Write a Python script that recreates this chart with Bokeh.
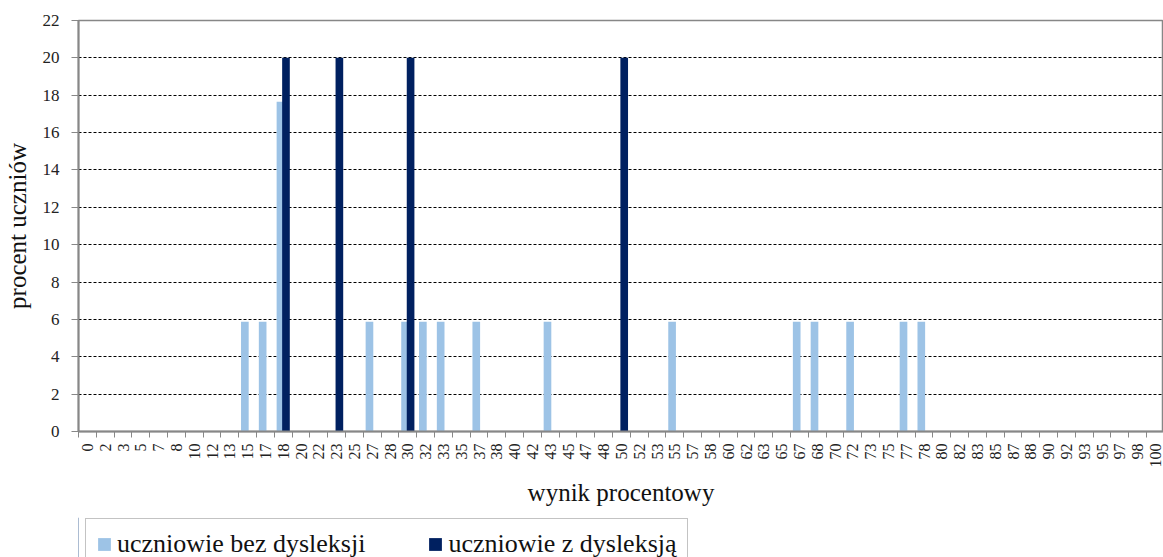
from math import pi
from bokeh.plotting import figure
from bokeh.layouts import column
from bokeh.models import FixedTicker, Legend, LegendItem, Range1d, ColumnDataSource
from bokeh.embed import file_html
from bokeh.resources import INLINE

# category labels (percent score)
categories = ["0", "2", "3", "5", "7", "8", "10", "12", "13", "15", "17", "18", "20", "22", "23",
              "25", "27", "28", "30", "32", "33", "35", "37", "38", "40", "42", "43", "45", "47",
              "48", "50", "52", "53", "55", "57", "58", "60", "62", "63", "65", "67", "68", "70",
              "72", "73", "75", "77", "78", "80", "82", "83", "85", "87", "88", "90", "92", "93",
              "95", "97", "98", "100"]

# uczniowie bez dysleksji (non-zero categories)
bez_scores = ["15", "17", "18", "27", "30", "32", "33", "37", "43", "55", "67", "68", "72", "77", "78"]
bez_values = [5.88, 5.88, 17.65, 5.88, 5.88, 5.88, 5.88, 5.88, 5.88, 5.88, 5.88, 5.88, 5.88, 5.88, 5.88]

# uczniowie z dysleksją (non-zero categories)
z_scores = ["18", "23", "30", "50"]
z_values = [20, 20, 20, 20]

y_ticks = [0, 2, 4, 6, 8, 10, 12, 14, 16, 18, 20, 22]

series_names = ["uczniowie bez dysleksji", "uczniowie z dysleksją"]

FONT = "Liberation Serif"
LIGHT = "#9DC3E6"
DARK = "#002060"
AXIS_GRAY = "#878787"

idx = {c: i for i, c in enumerate(categories)}

src_bez = ColumnDataSource(dict(x=[idx[s] - 0.155 for s in bez_scores], top=bez_values))
src_z = ColumnDataSource(dict(x=[idx[s] + 0.155 for s in z_scores], top=z_values))

p = figure(width=1163, height=517, output_backend="svg", toolbar_location=None,
           x_range=Range1d(-0.5, 60.45), y_range=Range1d(0, 22),
           min_border_left=78, min_border_right=0, min_border_top=20, min_border_bottom=86)

r1 = p.vbar(x="x", top="top", bottom=0, width=0.43, source=src_bez,
            fill_color=LIGHT, line_color=None)
r2 = p.vbar(x="x", top="top", bottom=0, width=0.43, source=src_z,
            fill_color=DARK, line_color=None)

# x axis
xa = p.xaxis[0]
xa.ticker = FixedTicker(ticks=list(range(len(categories))),
                        minor_ticks=[i - 0.5 for i in range(len(categories) + 1)])
xa.major_label_overrides = {i: c for i, c in enumerate(categories)}
xa.major_label_orientation = pi / 2
xa.major_tick_out = 0
xa.major_tick_in = 0
xa.minor_tick_out = 6
xa.minor_tick_in = 0
xa.minor_tick_line_color = AXIS_GRAY
xa.axis_line_color = AXIS_GRAY
xa.axis_line_width = 2
xa.major_label_text_font = FONT
xa.major_label_text_font_size = "16px"
xa.major_label_text_color = "#222222"
xa.major_label_standoff = 6
xa.axis_label = "wynik procentowy"
xa.axis_label_text_font = FONT
xa.axis_label_text_font_size = "25px"
xa.axis_label_text_font_style = "normal"
xa.axis_label_text_color = "#111111"
xa.axis_label_standoff = 8

# y axis
ya = p.yaxis[0]
ya.ticker = FixedTicker(ticks=y_ticks)
ya.minor_tick_line_color = None
ya.major_tick_out = 7
ya.major_tick_in = 0
ya.major_tick_line_color = AXIS_GRAY
ya.axis_line_color = AXIS_GRAY
ya.axis_line_width = 2
ya.major_label_text_font = FONT
ya.major_label_text_font_size = "17px"
ya.major_label_text_color = "#222222"
ya.major_label_standoff = 12
ya.axis_label = "procent uczniów"
ya.axis_label_text_font = FONT
ya.axis_label_text_font_size = "25px"
ya.axis_label_text_font_style = "normal"
ya.axis_label_text_color = "#111111"
ya.axis_label_standoff = 9

# grid
p.xgrid.grid_line_color = None
p.ygrid.ticker = FixedTicker(ticks=y_ticks)
p.ygrid.grid_line_color = "black"
p.ygrid.grid_line_dash = "3 2"
p.ygrid.grid_line_width = 1

p.outline_line_color = AXIS_GRAY
p.outline_line_width = 1.5
p.background_fill_color = "white"
p.border_fill_color = "white"

# legend strip below the chart (legend swatches drawn by renderers outside its view)
pl = figure(width=1163, height=40, output_backend="svg", toolbar_location=None,
            x_range=Range1d(0, 1), y_range=Range1d(0, 1),
            min_border=0, x_axis_type=None, y_axis_type=None)
pl.outline_line_color = None
pl.xgrid.grid_line_color = None
pl.ygrid.grid_line_color = None
l1 = pl.vbar(x=[-5], top=[1], width=0.5, fill_color=LIGHT, line_color=None)
l2 = pl.vbar(x=[-5], top=[1], width=0.5, fill_color=DARK, line_color=None)

legend = Legend(items=[LegendItem(label=series_names[0], renderers=[l1]),
                       LegendItem(label=series_names[1], renderers=[l2])],
                orientation="horizontal", location=(7, -13),
                glyph_width=16, glyph_height=16, label_standoff=5, spacing=62,
                padding=10, margin=0,
                label_text_font=FONT, label_text_font_size="26px", label_text_color="#111111",
                border_line_color=AXIS_GRAY, border_line_width=1.5,
                background_fill_color="white", background_fill_alpha=1)
pl.add_layout(legend, "center")

layout = column(p, pl, spacing=0)
open("out.html", "w").write(file_html(layout, INLINE))
